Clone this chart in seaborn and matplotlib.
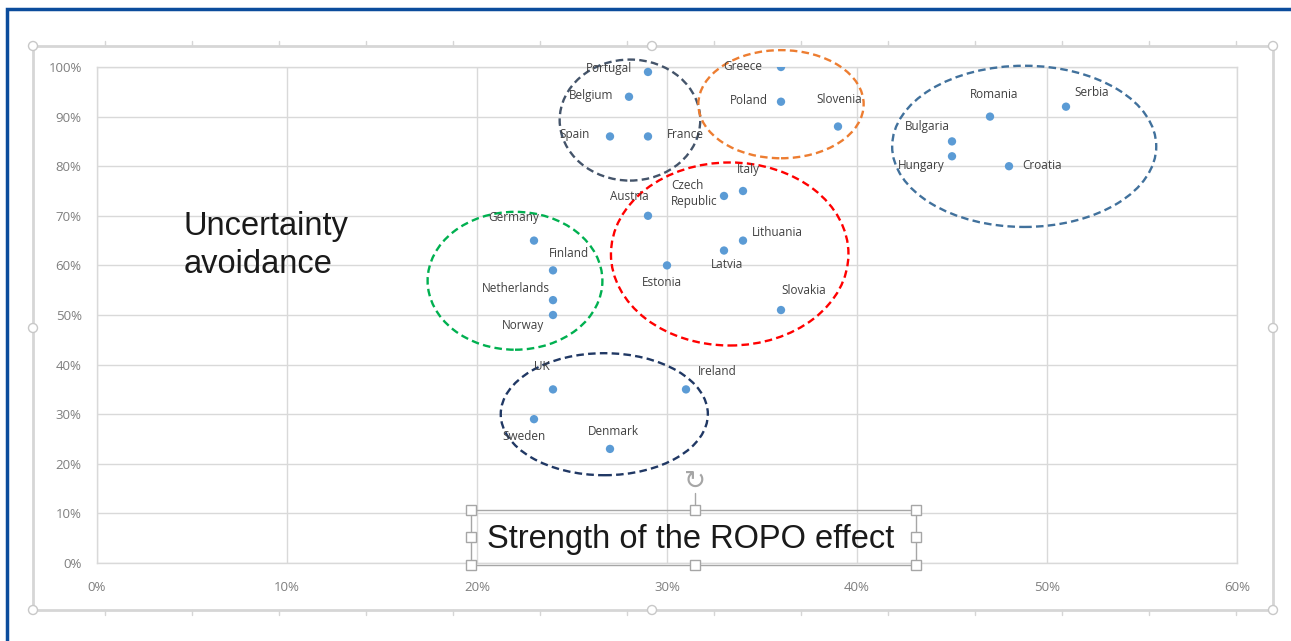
import matplotlib
matplotlib.use("Agg")
import matplotlib.pyplot as plt
from matplotlib.patches import Ellipse, Rectangle
from matplotlib.lines import Line2D
from matplotlib.ticker import PercentFormatter
import seaborn as sns
import pandas as pd

# ---- data: strength of the ROPO effect (x) vs uncertainty avoidance (y) ----
countries = ["Portugal", "Belgium", "Spain", "France", "Greece", "Poland", "Slovenia",
             "Romania", "Serbia", "Bulgaria", "Hungary", "Croatia", "Italy",
             "Czech\nRepublic", "Austria", "Germany", "Finland", "Netherlands", "Norway",
             "Lithuania", "Latvia", "Estonia", "Slovakia", "UK", "Ireland", "Sweden",
             "Denmark"]
ropo_effect = [0.29, 0.28, 0.27, 0.29, 0.36, 0.36, 0.39,
               0.47, 0.51, 0.45, 0.45, 0.48, 0.34,
               0.33, 0.29, 0.23, 0.24, 0.24, 0.24,
               0.34, 0.33, 0.30, 0.36, 0.24, 0.31, 0.23,
               0.27]
uncertainty_avoidance = [0.99, 0.94, 0.86, 0.86, 1.00, 0.93, 0.88,
                         0.90, 0.92, 0.85, 0.82, 0.80, 0.75,
                         0.74, 0.70, 0.65, 0.59, 0.53, 0.50,
                         0.65, 0.63, 0.60, 0.51, 0.35, 0.35, 0.29,
                         0.23]
x_ticks = [0.0, 0.1, 0.2, 0.3, 0.4, 0.5, 0.6]
y_ticks = [0.0, 0.1, 0.2, 0.3, 0.4, 0.5, 0.6, 0.7, 0.8, 0.9, 1.0]

df = pd.DataFrame({"country": countries, "ropo": ropo_effect, "ua": uncertainty_avoidance})

# label placement (pixel offsets from each marker: dx, dy, horizontal alignment)
label_offsets = {
    "Portugal": (-39, 3, "center"), "Belgium": (-38, 1, "center"), "Spain": (-35, 2, "center"),
    "France": (37, 2, "center"), "Greece": (-38, 0, "center"), "Poland": (-32, 1, "center"),
    "Slovenia": (1, 27, "center"), "Romania": (4, 22, "center"), "Serbia": (26, 14, "center"),
    "Bulgaria": (-25, 15, "center"), "Hungary": (-31, -9, "center"), "Croatia": (33, 1, "center"),
    "Italy": (5, 21, "center"), "Czech\nRepublic": (-53, 2, "left"), "Austria": (-19, 19, "center"),
    "Germany": (-20, 23, "center"), "Finland": (16, 17, "center"), "Netherlands": (-37, 12, "center"),
    "Norway": (-30, -11, "center"), "Lithuania": (34, 8, "center"), "Latvia": (3, -14, "center"),
    "Estonia": (-5, -17, "center"), "Slovakia": (23, 20, "center"), "UK": (-11, 23, "center"),
    "Ireland": (31, 18, "center"), "Sweden": (-10, -17, "center"), "Denmark": (3, 17, "center"),
}

# dashed cluster outlines: (centre x, centre y, width, height, colour)
clusters = [
    (0.2805, 0.893, 0.074, 0.244, "#44546A"),
    (0.360, 0.925, 0.087, 0.218, "#ED7D31"),
    (0.488, 0.840, 0.139, 0.325, "#41719C"),
    (0.333, 0.623, 0.125, 0.369, "#FF0000"),
    (0.220, 0.569, 0.092, 0.278, "#00B050"),
    (0.267, 0.300, 0.109, 0.246, "#203864"),
]

W, H = 1291, 641
sns.set_theme(style="white")
plt.rcParams["font.family"] = ["Open Sans", "DejaVu Sans"]

fig = plt.figure(figsize=(W / 100, H / 100), dpi=100)
fig.patch.set_facecolor("white")


def fx(px):
    return px / W


def fy(py):
    return 1 - py / H


ax = fig.add_axes([fx(97), fy(563), fx(1237) - fx(97), fy(67) - fy(563)])

sns.scatterplot(data=df, x="ropo", y="ua", ax=ax, color="#5B9BD5", s=36,
                edgecolor="none", zorder=5, legend=False)

ax.set_xlim(x_ticks[0], x_ticks[-1])
ax.set_ylim(y_ticks[0], y_ticks[-1])
ax.set_xticks(x_ticks)
ax.set_yticks(y_ticks)
ax.xaxis.set_major_formatter(PercentFormatter(1.0, decimals=0))
ax.yaxis.set_major_formatter(PercentFormatter(1.0, decimals=0))
ax.set_xlabel("")
ax.set_ylabel("")
ax.grid(True, color="#D9D9D9", linewidth=1.0)
ax.set_axisbelow(True)
for sp in ax.spines.values():
    sp.set_color("#D9D9D9")
    sp.set_linewidth(1.0)
ax.tick_params(axis="both", length=0, labelsize=9.5, labelcolor="#7F7F7F")
ax.tick_params(axis="x", pad=13)
ax.tick_params(axis="y", pad=11)

for name, x, y in zip(countries, ropo_effect, uncertainty_avoidance):
    dx, dy, ha = label_offsets[name]
    ax.annotate(name, (x, y), xytext=(dx, dy), textcoords="offset pixels",
                ha=ha, va="center", fontsize=8.5, color="#404040",
                multialignment="left", linespacing=1.3, zorder=6)

for cx, cy, w, h, col in clusters:
    ax.add_patch(Ellipse((cx, cy), w, h, fill=False, edgecolor=col, linewidth=1.7,
                         linestyle=(0, (3.2, 1.8)), zorder=4, clip_on=False))

# axis captions
fig.text(fx(184), fy(211), "Uncertainty\navoidance", fontsize=23.5, color="#1A1A1A",
         ha="left", va="top", linespacing=1.28, family=["Liberation Sans", "DejaVu Sans"])
fig.text(fx(691), fy(548), "Strength of the ROPO effect", fontsize=23.5, color="#1A1A1A",
         ha="center", va="baseline", family=["Liberation Sans", "DejaVu Sans"])

# selection box around the x caption
fig.add_artist(Rectangle((fx(471), fy(565)), fx(916) - fx(471), fy(510) - fy(565),
                         transform=fig.transFigure, fill=False, edgecolor="#A6A6A6",
                         linewidth=1.0))
hw, hh = 10 / W, 10 / H
for px, py in [(471, 510), (695, 510), (916, 510), (471, 537), (916, 537),
               (471, 565), (695, 565), (916, 565)]:
    fig.add_artist(Rectangle((fx(px) - hw / 2, fy(py) - hh / 2), hw, hh,
                             transform=fig.transFigure, facecolor="white",
                             edgecolor="#A6A6A6", linewidth=1.0, zorder=10))
fig.add_artist(Line2D([fx(695), fx(695)], [fy(493), fy(505)], transform=fig.transFigure,
                      color="#A6A6A6", linewidth=1.0))
fig.text(fx(695), fy(482), "\u21bb", fontsize=19, color="#A6A6A6", ha="center",
         va="center", family=["DejaVu Sans"])

# chart-area frame with ruler ticks and handles
fig.add_artist(Rectangle((fx(33), fy(610)), fx(1273) - fx(33), fy(46) - fy(610),
                         transform=fig.transFigure, fill=False, edgecolor="#D6D6D6",
                         linewidth=2.0))
for px in range(105, 1273, 87):
    fig.add_artist(Line2D([fx(px), fx(px)], [fy(41), fy(46)], transform=fig.transFigure,
                          color="#D6D6D6", linewidth=1.0))
    fig.add_artist(Line2D([fx(px), fx(px)], [fy(610), fy(615)], transform=fig.transFigure,
                          color="#D6D6D6", linewidth=1.0))
for px, py in [(33, 46), (652, 46), (1273, 46), (33, 328), (1273, 328),
               (33, 610), (652, 610), (1273, 610)]:
    fig.add_artist(Ellipse((fx(px), fy(py)), 9 / W, 9 / H, transform=fig.transFigure,
                           facecolor="white", edgecolor="#C8C8C8", linewidth=1.0, zorder=10))

# outer frame
fig.add_artist(Rectangle((fx(7), fy(660)), fx(1300) - fx(7), fy(9) - fy(660),
                         transform=fig.transFigure, fill=False, edgecolor="#0B4C9C",
                         linewidth=2.5))

fig.savefig("out.png", dpi=100, facecolor="white")
